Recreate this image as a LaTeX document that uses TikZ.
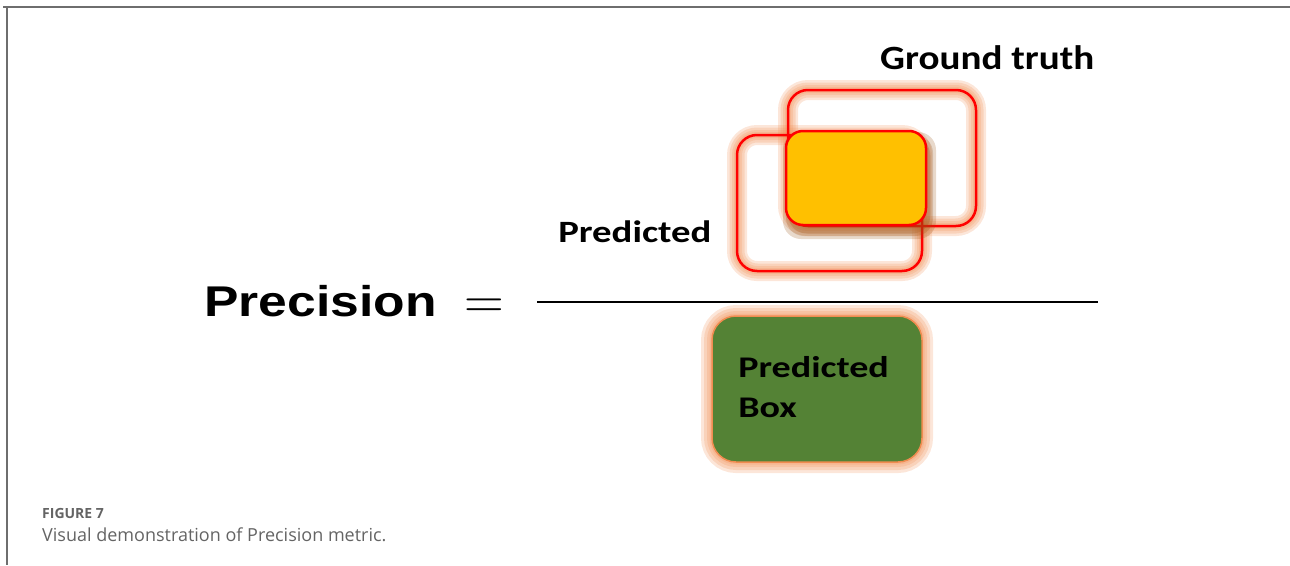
\documentclass[tikz,border=0pt]{standalone}
\usepackage{fontspec}
\newfontfamily\arialfont{Liberation Sans}
\newfontfamily\calibri{Carlito}
\newfontfamily\capfont{Open Sans}

\begin{document}
\begin{tikzpicture}[x=1pt, y=-1pt]

    % Define colors
    \definecolor{framegray}{RGB}{110,110,110}
    \definecolor{boxred}{RGB}{255,0,0}
    \definecolor{glowpeach}{RGB}{240,140,80}
    \definecolor{shadowbrown}{RGB}{150,80,20}
    \definecolor{overlapyellow}{RGB}{255,192,0}
    \definecolor{boxgreen}{RGB}{84,130,53}
    \definecolor{captiongray}{RGB}{100,100,100}

    \useasboundingbox (0,0) rectangle (1290,565);

    % page frame
    \draw[framegray, line width=1.5] (3,7) -- (1290,7);
    \draw[framegray, line width=1.5] (7,7) -- (7,565);

    % soft halo round the two outlines
    \foreach \w in {20,15,10,6}{
        \draw[glowpeach, opacity=0.22, line width=\w, rounded corners=20] (788,90) rectangle (976,226);
        \draw[glowpeach, opacity=0.22, line width=\w, rounded corners=20] (737,135) rectangle (922,271);
    }
    \draw[boxred, line width=2.5, rounded corners=20] (788,90) rectangle (976,226);
    \draw[boxred, line width=2.5, rounded corners=20] (737,135) rectangle (922,271);

    % shadow under the overlap
    \foreach \d in {14,8,3}{
        \fill[shadowbrown, opacity=0.22, rounded corners=18] (786-\d/2+4,131-\d/2+8) rectangle (926+\d/2+3,225+\d/2+7);
    }
    \filldraw[fill=overlapyellow, draw=boxred, line width=2.5, rounded corners=17] (786,131) rectangle (926,225);

    % denominator box
    \foreach \w in {22,16,10,5}{
        \draw[glowpeach, opacity=0.22, line width=\w, rounded corners=24] (712,316) rectangle (922,462);
    }
    \filldraw[fill=boxgreen, draw=glowpeach, line width=1.5, rounded corners=24] (712,316) rectangle (922,462);

    % fraction bar
    \draw[black, line width=2.8] (537,302) -- (1098,302);

    % labels
    \node[anchor=base west, inner sep=0, font=\arialfont\bfseries\fontsize{43}{43}\selectfont, xscale=1.2] (precision) at (204,316) {Precision};
    \node[anchor=base, inner sep=0, font=\fontsize{55}{55}\selectfont] (equals) at (484,318) {=};
    \node[anchor=base west, inner sep=0, font=\calibri\bfseries\fontsize{34}{34}\selectfont, xscale=1.15] (truth) at (880,69) {Ground truth};
    \node[anchor=base west, inner sep=0, font=\calibri\bfseries\fontsize{31}{31}\selectfont, xscale=1.25] (predicted) at (558,242) {Predicted};
    \node[anchor=base west, inner sep=0, font=\calibri\bfseries\fontsize{30}{30}\selectfont, xscale=1.27] (boxlabel) at (738,377) {Predicted};
    \node[anchor=base west, inner sep=0, font=\calibri\bfseries\fontsize{30}{30}\selectfont, xscale=1.27] (boxword) at ([yshift=-40pt]boxlabel.base west) {Box};

    % caption
    \node[anchor=base west, inner sep=0, text=captiongray, font=\capfont\bfseries\fontsize{14}{14}\selectfont] (fignum) at (42,518) {FIGURE 7};
    \node[anchor=base west, inner sep=0, text=captiongray, font=\capfont\fontsize{18}{18}\selectfont] (figtext) at (42,541) {Visual demonstration of Precision metric.};

\end{tikzpicture}
\end{document}
